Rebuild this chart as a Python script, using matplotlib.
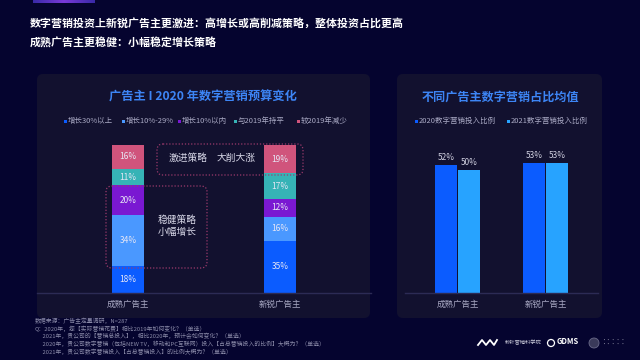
import matplotlib
matplotlib.use("Agg")
import matplotlib.pyplot as plt
from matplotlib.patches import FancyBboxPatch, Rectangle, Circle
from matplotlib.colors import LinearSegmentedColormap
import numpy as np

plt.rcParams['font.family'] = ['Noto Sans CJK SC', 'DejaVu Sans']

# ---- data ----
title_lines = ["数字营销投资上新锐广告主更激进：高增长或高削减策略，整体投资占比更高",
               "成熟广告主更稳健：小幅稳定增长策略"]
left_title = "广告主 I 2020 年数字营销预算变化"
right_title = "不同广告主数字营销占比均值"
categories = ["成熟广告主", "新锐广告主"]
stack_labels = ["增长30%以上", "增长10%-29%", "增长10%以内", "与2019年持平", "较2019年减少"]
stack_values = {
    "增长30%以上": [18, 35],
    "增长10%-29%": [34, 16],
    "增长10%以内": [20, 12],
    "与2019年持平": [11, 17],
    "较2019年减少": [16, 19],
}
share_labels = ["2020数字营销投入比例", "2021数字营销投入比例"]
share_2020 = [52, 53]
share_2021 = [50, 53]
footer_lines = [
    "数据来源：广告主定量调研，N=287",
    "Q：2020年，您【实际营销花费】相比2019年如何变化？（单选）",
    "      2021年，贵公司的【营销总投入】，相比2020年，预计会如何变化？（单选）",
    "      2020年，贵公司数字营销（包括NEW TV，移动和PC互联网）投入【占总营销投入的比例】大概为？（单选）",
    "      2021年，贵公司数字营销投入【占总营销投入】的比例大概为？（单选）",
]

stack_colors = ["#0b5cff", "#4a98ff", "#7a18d2", "#36b3b6", "#d0547c"]
share_colors = ["#0b5cff", "#27a3ff"]
bg = "#05042f"
panel = "#12112f"
txt_gray = "#a9a9c4"

W, H = 640, 360
fig = plt.figure(figsize=(6.4, 3.6), dpi=100, facecolor=bg)

# background axes in pixel coords
bgax = fig.add_axes([0, 0, 1, 1], zorder=0)
bgax.set_xlim(0, W)
bgax.set_ylim(H, 0)
bgax.axis('off')
bgax.set_facecolor(bg)

# top accent bar
grad = np.linspace(0, 1, 100).reshape(1, -1)
cm = LinearSegmentedColormap.from_list("acc", ["#3a2aa8", "#7a3ad8", "#3a2aa8"])
bgax.imshow(grad, extent=[33, 95, 3, 0], cmap=cm, aspect='auto', zorder=1)
bgax.set_xlim(0, W)
bgax.set_ylim(H, 0)

# panels
for (x0, x1) in [(37, 370), (397, 602)]:
    bgax.add_patch(FancyBboxPatch((x0 + 6, 74 + 6), x1 - x0 - 12, 318 - 74 - 12,
                                  boxstyle="round,pad=6", fc=panel, ec="none", zorder=1))

# headline
for i, line in enumerate(title_lines):
    bgax.text(30, 24 + i * 18.5, line, color="white", fontsize=7.9, fontweight='bold',
              va='center', ha='left')

# panel titles
bgax.text(203, 97, left_title, color="#3d85f5", fontsize=8.8, fontweight='bold',
          ha='center', va='center')
bgax.text(500, 97, right_title, color="#3d85f5", fontsize=8.7, fontweight='bold',
          ha='center', va='center')

# left legend
leg_x = [65, 123, 179, 235, 298]
for x, lab, c in zip(leg_x, stack_labels, stack_colors):
    bgax.add_patch(Rectangle((x - 1.5, 119.5), 3, 3, fc=c, ec='none', zorder=3))
    bgax.text(x + 3, 121, lab, color=txt_gray, fontsize=5.4, va='center', ha='left')

# right legend
for x, lab, c in zip([416, 508], share_labels, share_colors):
    bgax.add_patch(Rectangle((x - 1.5, 119.5), 3, 3, fc=c, ec='none', zorder=3))
    bgax.text(x + 3, 121, lab, color=txt_gray, fontsize=5.4, va='center', ha='left')

# footer
for i, line in enumerate(footer_lines):
    bgax.text(35, 321 + i * 7.6, line, color="#8a8aa8", fontsize=4.2, va='center', ha='left')

# logos (approximation)
bgax.plot([478, 482, 486, 490, 494, 497], [345, 340, 345, 340, 345, 340], color='white', lw=1.3)
bgax.text(505, 343, "秒针营销科学院", color="#c8c8d8", fontsize=3.8, va='center', ha='left')
bgax.add_patch(Circle((551, 343), 3.5, fc='none', ec='white', lw=0.9))
bgax.text(557, 341.5, "GDMS", color="white", fontsize=5.5, fontweight='bold', va='center', ha='left')
bgax.add_patch(Circle((594, 343), 5, fc='#3a3a5a', ec='#6a6a8a', lw=0.6))
bgax.text(601, 341, "·····", color="#8a8aa0", fontsize=3.5, va='center', ha='left')
bgax.text(601, 345, "·····", color="#8a8aa0", fontsize=3.5, va='center', ha='left')

# ---- left stacked chart ----
def px_axes(x0, x1, ytop, ybot):
    return fig.add_axes([x0 / W, (H - ybot) / H, (x1 - x0) / W, (ybot - ytop) / H], zorder=2)

axL = px_axes(50, 360, 145, 293)
axL.patch.set_alpha(0)
xs = np.arange(len(categories))
bottom = np.zeros(len(categories))
for lab, c in zip(stack_labels, stack_colors):
    vals = np.array(stack_values[lab], dtype=float)
    axL.bar(xs, vals, bottom=bottom, width=0.217, color=c, edgecolor='none')
    for x, v, b in zip(xs, vals, bottom):
        axL.text(x, b + v / 2, f"{int(v)}%", color="#e6e6f5", fontsize=6, ha='center', va='center')
    bottom += vals
axL.set_xlim((50 - 128) / 152, (360 - 128) / 152)
axL.set_ylim(0, bottom.max())
axL.axis('off')
axL.plot([-0.6, 1.6], [0, 0], color="#2c2b55", lw=1, clip_on=False)
for x, cat in zip(xs, categories):
    axL.text(x, -7.5, cat, color=txt_gray, fontsize=6.1, ha='center', va='center')

# dotted annotation boxes
ovax = fig.add_axes([0, 0, 1, 1], zorder=3)
ovax.set_xlim(0, W)
ovax.set_ylim(H, 0)
ovax.axis('off')
ovax.patch.set_alpha(0)
ovax.add_patch(FancyBboxPatch((163, 150), 134, 19, boxstyle="round,pad=6",
                              fc='none', ec="#9c3a6c", lw=0.9, ls=(0, (1, 1.5))))
ovax.add_patch(FancyBboxPatch((112, 192), 89, 70, boxstyle="round,pad=6",
                              fc='none', ec="#9c3a6c", lw=0.9, ls=(0, (1, 1.5))))
ovax.text(188, 158, "激进策略", color="#d8d8e8", fontsize=7, ha='center', va='center')
ovax.text(236, 158, "大削大涨", color="#d8d8e8", fontsize=7, ha='center', va='center')
ovax.text(177, 220, "稳健策略", color="#d8d8e8", fontsize=7, ha='center', va='center')
ovax.text(177, 232, "小幅增长", color="#d8d8e8", fontsize=7, ha='center', va='center')

# ---- right grouped chart ----
axR = px_axes(413, 590, 145, 293)
axR.patch.set_alpha(0)
bw = 0.25
off = 0.132
for vals, c, dx in [(share_2020, share_colors[0], -off), (share_2021, share_colors[1], off)]:
    axR.bar(xs + dx, vals, width=bw, color=c, edgecolor='none')
    for x, v in zip(xs + dx, vals):
        axR.text(x, v + 1.2, f"{v}%", color="#d0d0e0", fontsize=6, ha='center', va='bottom')
axR.set_xlim((413 - 457.5) / 88, (590 - 457.5) / 88)
axR.set_ylim(0, 148 / 2.46)
axR.axis('off')
axR.plot([-0.6, 1.6], [0, 0], color="#2c2b55", lw=1, clip_on=False)
for x, cat in zip(xs, categories):
    axR.text(x, -4.5, cat, color=txt_gray, fontsize=6.1, ha='center', va='center')

fig.savefig("out.png", dpi=100, facecolor=bg)
